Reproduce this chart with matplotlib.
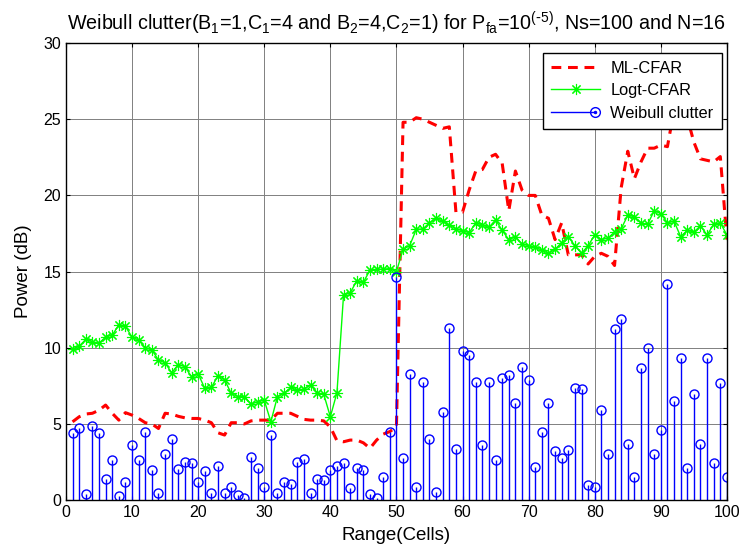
import numpy as np
import matplotlib.pyplot as plt
from matplotlib.lines import Line2D
from matplotlib.legend_handler import HandlerLine2D

plt.rcParams['font.family'] = ['Liberation Sans', 'DejaVu Sans']
plt.rcParams['mathtext.default'] = 'regular'

# veriler (hucre 1..100)
cells = np.arange(1, 101)

clutter = [4.38, 4.71, 0.39, 4.86, 4.38, 1.36, 2.63, 0.26, 1.20, 3.65,
           2.63, 4.49, 1.97, 0.48, 3.00, 3.98, 2.06, 2.52, 2.41, 1.16,
           1.93, 0.48, 2.23, 0.48, 0.83, 0.33, 0.11, 2.84, 2.14, 0.87,
           4.27, 0.48, 1.22, 1.05, 2.52, 2.67, 0.48, 1.36, 1.31, 1.97,
           2.23, 2.41, 0.77, 2.08, 1.97, 0.39, 0.17, 1.49, 4.49, 14.66,
           2.74, 8.27, 0.87, 7.77, 3.98, 0.55, 5.76, 11.31, 3.33, 9.80,
           9.52, 7.77, 3.61, 7.77, 2.63, 7.99, 8.20, 6.35, 8.71, 7.88,
           2.15, 4.49, 6.35, 3.24, 2.74, 3.28, 7.38, 7.29, 0.98, 0.87,
           5.91, 3.00, 11.20, 11.86, 3.68, 1.53, 8.65, 9.96, 3.00, 4.60,
           14.18, 6.52, 9.30, 2.08, 6.94, 3.68, 9.30, 2.41, 7.70, 1.49]

ml_cfar = [5.14, 5.47, 5.65, 5.70, 5.90, 6.24, 5.70, 5.25, 5.74, 5.58,
           5.36, 5.08, 5.00, 4.70, 5.70, 5.65, 5.50, 5.40, 5.36, 5.36,
           5.25, 5.08, 4.42, 4.27, 5.08, 5.08, 5.00, 5.20, 5.25, 5.25,
           5.25, 5.70, 5.70, 5.70, 5.50, 5.30, 5.25, 5.25, 5.20, 4.80,
           3.90, 3.83, 3.94, 3.94, 3.76, 3.40, 3.94, 4.33, 4.50, 4.80,
           24.8, 24.8, 25.1, 25.0, 24.8, 24.6, 24.4, 24.5, 18.9, 18.9,
           20.35, 21.6, 21.7, 22.5, 22.7, 22.1, 19.0, 21.6, 20.35, 20.0,
           20.0, 18.7, 18.5, 17.1, 18.2, 16.1, 16.1, 16.1, 15.5, 16.0,
           16.2, 16.0, 15.4, 20.5, 22.9, 21.1, 22.2, 23.1, 23.1, 23.3,
           23.2, 25.6, 25.3, 25.1, 23.5, 22.4, 22.3, 22.2, 22.55, 17.1]

logt_cfar = [9.90, 10.10, 10.55, 10.40, 10.30, 10.70, 10.83, 11.50, 11.40, 10.70,
             10.50, 10.00, 9.85, 9.20, 9.00, 8.36, 8.90, 8.75, 8.10, 8.30,
             7.33, 7.40, 8.15, 7.90, 7.00, 6.80, 6.80, 6.30, 6.45, 6.56,
             5.14, 6.80, 7.00, 7.40, 7.20, 7.30, 7.55, 7.05, 6.95, 5.47,
             7.05, 13.46, 13.60, 14.40, 14.30, 15.10, 15.15, 15.15, 15.20, 15.00,
             16.46, 16.70, 17.77, 17.80, 18.20, 18.50, 18.30, 18.05, 17.80, 17.68,
             17.55, 18.20, 18.05, 17.90, 18.40, 17.70, 17.10, 17.30, 16.80, 16.70,
             16.60, 16.40, 16.20, 16.46, 16.90, 17.30, 16.70, 16.20, 16.70, 17.40,
             17.10, 17.20, 17.60, 17.80, 18.70, 18.60, 18.20, 18.10, 19.00, 18.80,
             18.20, 18.30, 17.30, 17.70, 17.60, 18.00, 17.40, 18.10, 18.20, 17.40]

xticks = np.arange(0, 101, 10)
yticks = np.arange(0, 31, 5)


# legendde stem isaretini cizginin sonuna koyan handler
class StemHandler(HandlerLine2D):
    def create_artists(self, legend, orig_handle, xdescent, ydescent,
                       width, height, fontsize, trans):
        y = height / 2 - ydescent
        xe = width - xdescent - 4
        ln = Line2D([-xdescent, xe], [y, y], color='b', lw=1)
        mk = Line2D([xe], [y], marker='o', mfc='none', mec='b', ms=7, lw=0)
        dot = Line2D([xe], [y], marker='.', color='b', ms=3, lw=0)
        for a in (ln, mk, dot):
            a.set_transform(trans)
        return [ln, mk, dot]


fig = plt.figure(figsize=(7.41, 5.52), dpi=100)
ax = fig.add_axes([0.089, 0.094, 0.892, 0.828])

l1, = ax.plot(cells, ml_cfar, color='r', ls='--', lw=2.2, dashes=(3.2, 2.2))
l2, = ax.plot(cells, logt_cfar, color='#00ff00', lw=1, marker=(8, 2, 0), ms=8, mew=0.8)
ax.vlines(cells, 0, clutter, color='b', lw=1)
ax.plot(cells, clutter, ls='none', marker='o', mfc='none', mec='b', ms=6.5, mew=1)
l3 = Line2D([], [], color='b')

ax.set_xlim(0, 100)
ax.set_ylim(0, 30)
ax.set_xticks(xticks)
ax.set_yticks(yticks)
ax.grid(True, color='0.5', lw=0.7)
ax.tick_params(direction='in', top=True, right=True, length=3, labelsize=11.5)
for s in ax.spines.values():
    s.set_linewidth(1)

ax.set_xlabel('Range(Cells)', fontsize=13.5, labelpad=5)
ax.set_ylabel('Power (dB)', fontsize=13.5, labelpad=8)
ax.set_title(r'Weibull clutter(B$_1$=1,C$_1$=4 and B$_2$=4,C$_2$=1) for P$_{fa}$=10$^{(\text{-}5)}$, Ns=100 and N=16',
             fontsize=14.2, pad=9)

leg = ax.legend([l1, l2, l3], ['ML-CFAR', 'Logt-CFAR', 'Weibull clutter'],
                loc='upper right', bbox_to_anchor=(0.992, 0.979), fontsize=11.8,
                fancybox=False, edgecolor='k', framealpha=1, handlelength=3.0,
                numpoints=1, borderaxespad=0, labelspacing=0.45, borderpad=0.5,
                handletextpad=0.6, handler_map={l3: StemHandler()})
leg.get_frame().set_linewidth(1)

plt.savefig('out.png', dpi=100)
